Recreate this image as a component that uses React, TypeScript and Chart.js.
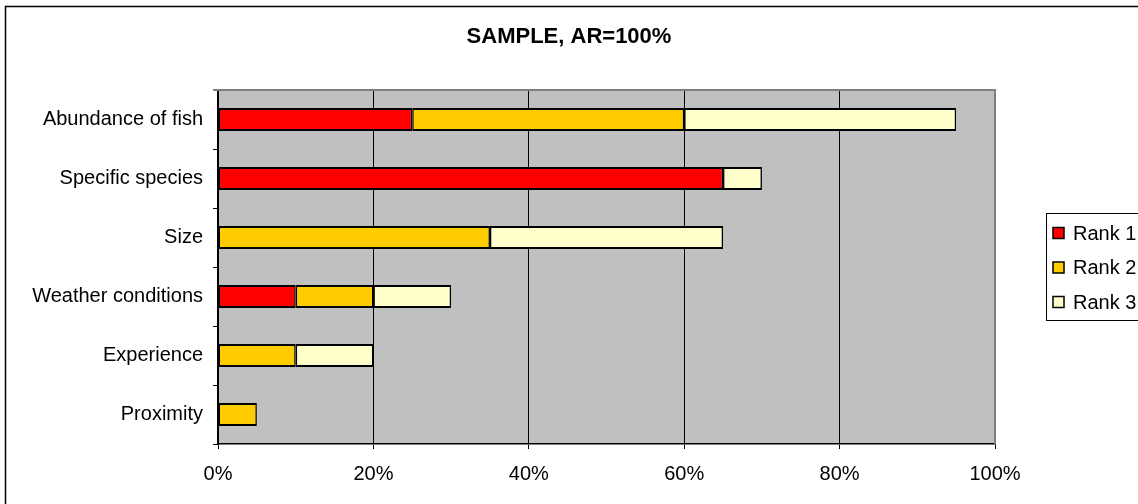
import React, { useEffect, useRef } from 'react';
import { Chart, registerables } from 'chart.js';

Chart.register(...registerables);

const chartTitle = 'SAMPLE, AR=100%';
const categories = ['Abundance of fish', 'Specific species', 'Size', 'Weather conditions', 'Experience', 'Proximity'];
const rank1 = [25, 65, 0, 10, 0, 0];
const rank2 = [35, 0, 35, 10, 10, 5];
const rank3 = [35, 5, 30, 10, 10, 0];
const seriesNames = ['Rank 1', 'Rank 2', 'Rank 3'];
const seriesColors = ['#FF0000', '#FFCC00', '#FFFFCC'];
const xTickValues = [0, 20, 40, 60, 80, 100];

const FONT = '"Liberation Sans", Arial, sans-serif';
const W = 1138;
const H = 504;

const framePlugin = {
  id: 'excelFrame',
  beforeDraw(chart: any) {
    const { ctx, chartArea } = chart;
    ctx.save();
    ctx.fillStyle = '#FFFFFF';
    ctx.fillRect(0, 0, W, H);
    // outer chart border
    ctx.strokeStyle = '#000000';
    ctx.lineWidth = 1.5;
    ctx.strokeRect(5.5, 6.5, W + 20, H + 20);
    // plot background
    ctx.fillStyle = '#C0C0C0';
    ctx.fillRect(chartArea.left, chartArea.top, chartArea.right - chartArea.left, chartArea.bottom - chartArea.top);
    ctx.restore();
  },
  afterDraw(chart: any) {
    const { ctx, chartArea } = chart;
    ctx.save();
    // plot border top/right gray
    ctx.strokeStyle = '#808080';
    ctx.lineWidth = 2;
    ctx.beginPath();
    ctx.moveTo(chartArea.left - 5, chartArea.top);
    ctx.lineTo(chartArea.right, chartArea.top);
    ctx.lineTo(chartArea.right, chartArea.bottom);
    ctx.stroke();
    // title
    ctx.fillStyle = '#000000';
    ctx.font = `bold 22px ${FONT}`;
    ctx.textAlign = 'center';
    ctx.textBaseline = 'middle';
    ctx.fillText(chartTitle, W / 2, 37);
    // legend
    const lx = 1046;
    const ly = 213;
    ctx.strokeStyle = '#000000';
    ctx.lineWidth = 1;
    ctx.strokeRect(lx + 0.5, ly + 0.5, 200, 107);
    const ys = [233, 267.5, 302];
    ctx.font = `20px ${FONT}`;
    ctx.textAlign = 'left';
    seriesNames.forEach((name, i) => {
      const y = ys[i];
      ctx.fillStyle = seriesColors[i];
      ctx.fillRect(1053, y - 5.5, 11, 11);
      ctx.strokeStyle = '#000000';
      ctx.lineWidth = 1.5;
      ctx.strokeRect(1053, y - 5.5, 11, 11);
      ctx.fillStyle = '#000000';
      ctx.fillText(name, 1073, y + 1);
    });
    ctx.restore();
  },
};

export default function App() {
  const canvasRef = useRef<HTMLCanvasElement | null>(null);

  useEffect(() => {
    const canvas = canvasRef.current;
    if (!canvas) return;
    const datasets = [rank1, rank2, rank3].map((values, i) => ({
      label: seriesNames[i],
      data: values,
      backgroundColor: seriesColors[i],
      borderColor: '#000000',
      borderWidth: { top: 2, bottom: 2, left: 1.5, right: 1.5 },
      borderSkipped: false,
      categoryPercentage: 1,
      barPercentage: 0.39,
    }));
    const chart = new Chart(canvas, {
      type: 'bar',
      data: { labels: categories, datasets },
      options: {
        indexAxis: 'y',
        responsive: false,
        animation: false,
        devicePixelRatio: 1,
        layout: { padding: { top: 90, right: W - 995, left: 0, bottom: 0 } },
        plugins: {
          legend: { display: false },
          title: { display: false },
          tooltip: { enabled: false },
        },
        scales: {
          x: {
            type: 'linear',
            stacked: true,
            min: 0,
            max: 100,
            afterBuildTicks: (scale: any) => {
              scale.ticks = xTickValues.map((v) => ({ value: v }));
            },
            afterFit: (scale: any) => {
              scale.height = 60;
            },
            ticks: {
              color: '#000000',
              font: { family: FONT, size: 20 },
              padding: 13,
              maxRotation: 0,
              callback: (v: any) => `${v}%`,
            },
            grid: {
              color: '#000000',
              lineWidth: 1,
              drawTicks: true,
              tickLength: 5,
            },
            border: { display: true, color: '#000000', width: 1.5 },
          },
          y: {
            type: 'category',
            stacked: true,
            afterFit: (scale: any) => {
              scale.width = 218;
            },
            ticks: {
              color: '#000000',
              font: { family: FONT, size: 20 },
              padding: 10,
            },
            grid: {
              offset: true,
              drawOnChartArea: false,
              drawTicks: true,
              tickLength: 5,
              color: '#000000',
            },
            border: { display: true, color: '#000000', width: 1.5 },
          },
        },
      },
      plugins: [framePlugin],
    } as any);
    return () => chart.destroy();
  }, []);

  return (
    <div style={{ position: 'fixed', left: 0, top: 0, width: W, height: H, background: '#FFFFFF' }}>
      <canvas ref={canvasRef} width={W} height={H} style={{ display: 'block' }} />
    </div>
  );
}
